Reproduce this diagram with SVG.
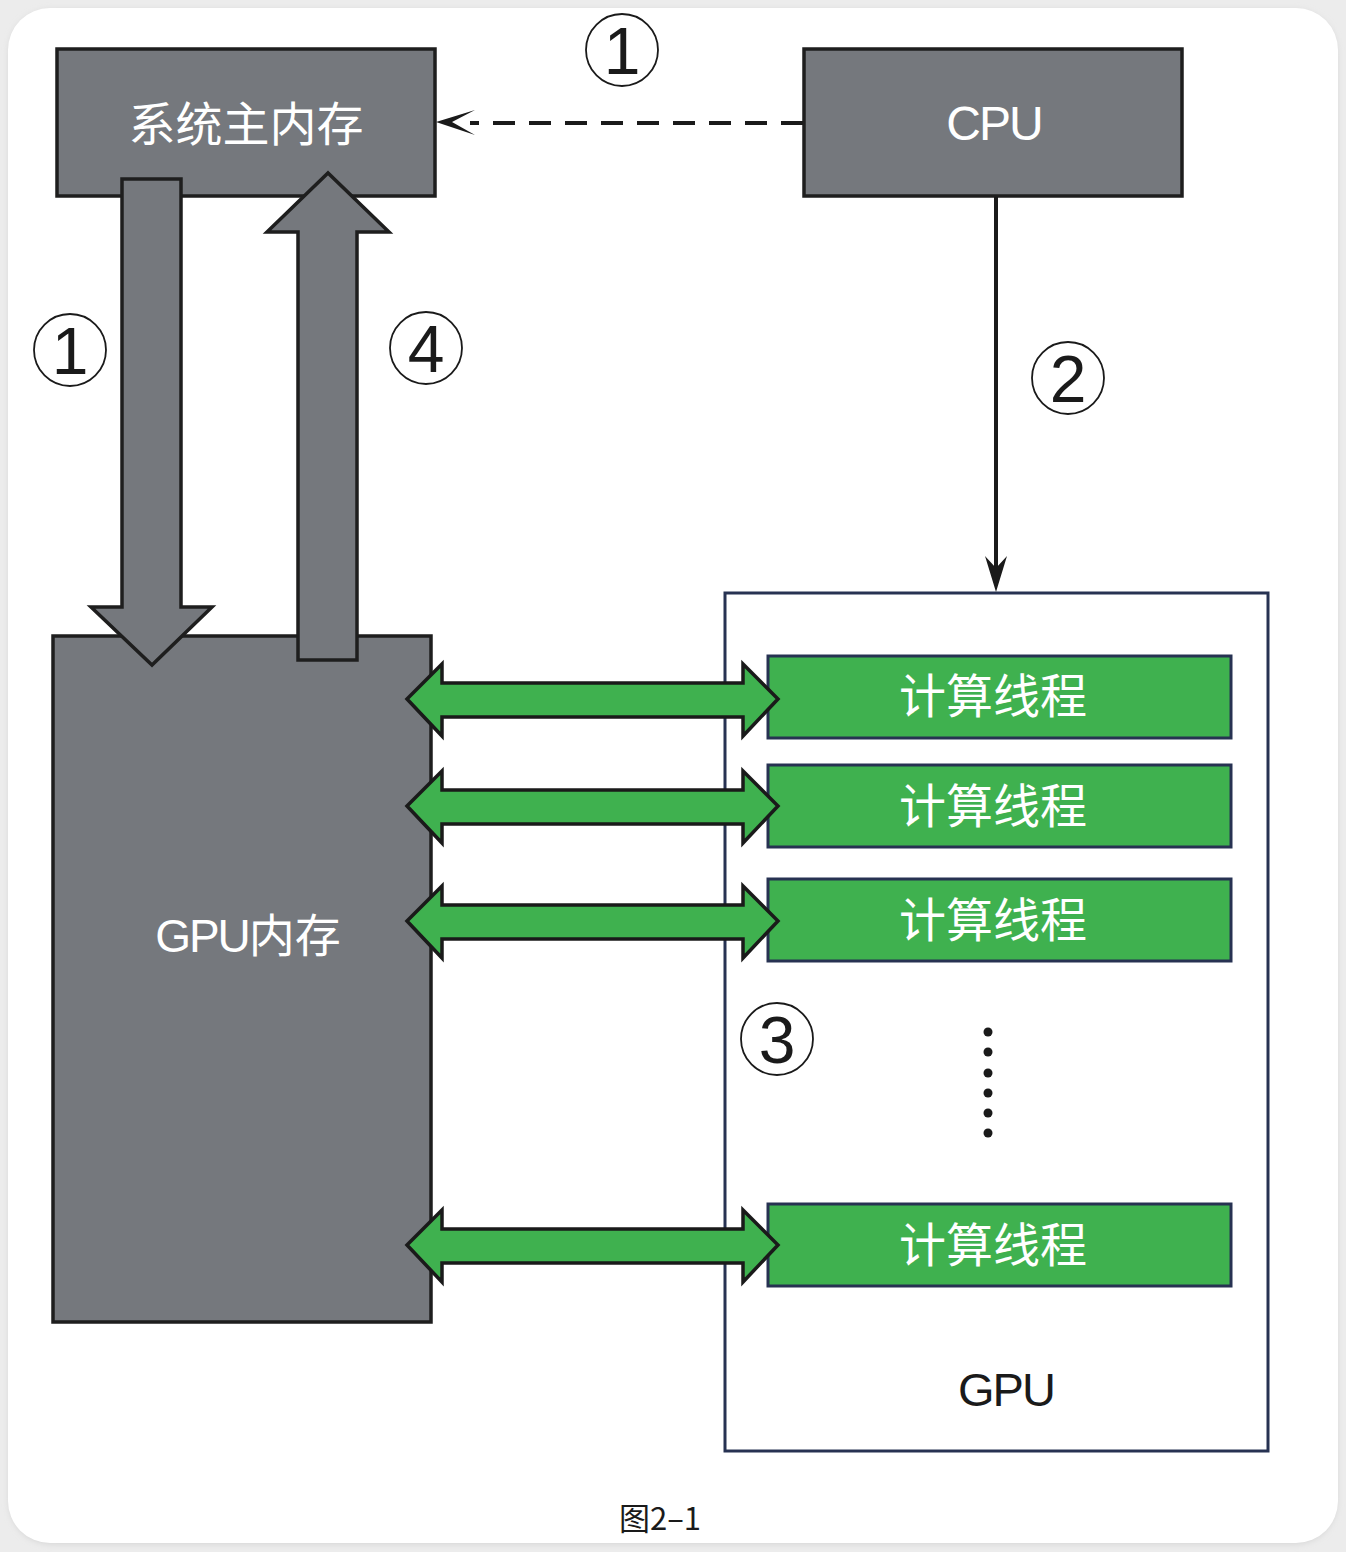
<svg xmlns="http://www.w3.org/2000/svg" width="1346" height="1552" viewBox="0 0 1346 1552">
<defs>
<filter id="sh" x="-5%" y="-5%" width="110%" height="110%"><feGaussianBlur stdDeviation="3"/></filter>
</defs>
<style>
.gray{fill:#75787d;stroke:#1e1e1e;stroke-width:3.5}
.green{fill:#3fb14f;stroke:#273252;stroke-width:3}
.garrow{fill:#3fb14f;stroke:#1a1a1a;stroke-width:3.5;stroke-linejoin:miter}
.wt{fill:#ffffff;font-family:"Noto Sans CJK SC","Liberation Sans",sans-serif;font-size:47px;text-anchor:middle}
.lt{fill:#ffffff;font-family:"Liberation Sans","Noto Sans CJK SC",sans-serif;font-size:48px;text-anchor:middle;letter-spacing:-2px}
.circ{fill:none;stroke:#1a1a1a;stroke-width:1.8}
.num{fill:#1a1a1a;font-family:"Liberation Sans",sans-serif;font-size:66px;text-anchor:middle}
</style>
<rect x="0" y="0" width="1346" height="1552" fill="#ececec"/>
<rect x="9" y="10" width="1328" height="1534" rx="42" fill="#d4d4d4" filter="url(#sh)"/>
<rect x="8" y="8" width="1330" height="1535" rx="42" fill="#ffffff"/>

<g id="gpu-container">
<rect x="725" y="593" width="543" height="858" fill="#ffffff" stroke="#273252" stroke-width="3"/>
<text x="1006" y="1406" font-family="Liberation Sans,sans-serif" font-size="47" fill="#1a1a1a" text-anchor="middle" letter-spacing="-2">GPU</text>
</g>

<g id="sysmem">
<rect class="gray" x="57" y="49" width="378" height="147"/>
<text class="wt" x="246" y="141">系统主内存</text>
</g>
<g id="cpu">
<rect class="gray" x="804" y="49" width="378" height="147"/>
<text class="lt" x="994" y="140">CPU</text>
</g>
<g id="gpumem">
<rect class="gray" x="53" y="636" width="378" height="686"/>
<text x="248" y="952" font-family="Liberation Sans,&quot;Noto Sans CJK SC&quot;,sans-serif" font-size="46" fill="#ffffff" text-anchor="middle" letter-spacing="-2">GPU<tspan font-family="Noto Sans CJK SC,sans-serif" letter-spacing="0">内存</tspan></text>
</g>

<g id="thread1"><rect class="green" x="768" y="656" width="463" height="82"/><text class="wt" x="993" y="713">计算线程</text></g>
<g id="thread2"><rect class="green" x="768" y="765" width="463" height="82"/><text class="wt" x="993" y="823">计算线程</text></g>
<g id="thread3"><rect class="green" x="768" y="879" width="463" height="82"/><text class="wt" x="993" y="937">计算线程</text></g>
<g id="thread4"><rect class="green" x="768" y="1204" width="463" height="82"/><text class="wt" x="993" y="1262">计算线程</text></g>

<g id="dots" fill="#1a1a1a">
<circle cx="988" cy="1032" r="4.5"/><circle cx="988" cy="1052" r="4.5"/><circle cx="988" cy="1073" r="4.5"/>
<circle cx="988" cy="1093" r="4.5"/><circle cx="988" cy="1113" r="4.5"/><circle cx="988" cy="1133" r="4.5"/>
</g>

<g id="connectors">
<line x1="803" y1="123" x2="470" y2="123" stroke="#1a1a1a" stroke-width="4" stroke-dasharray="22,14"/>
<path d="M436,122 L475,110 L452,122 L475,135 Z" fill="#1a1a1a"/>
<line x1="996" y1="197" x2="996" y2="570" stroke="#1a1a1a" stroke-width="4"/>
<path d="M996,592 L985,556 L996,568 L1007,556 Z" fill="#1a1a1a"/>
<path class="gray" d="M122,179 L181,179 L181,607 L212,607 L152,665 L91,607 L122,607 Z"/>
<path class="gray" d="M298,660 L298,232 L267,232 L328,173 L389,232 L357,232 L357,660 Z"/>
<path class="garrow" d="M407,699 L442,664 L442,683 L743,683 L743,664 L778,699 L743,736 L743,717 L442,717 L442,736 Z"/>
<path class="garrow" d="M407,806 L442,771 L442,790 L743,790 L743,771 L778,806 L743,843 L743,824 L442,824 L442,843 Z"/>
<path class="garrow" d="M407,921 L442,886 L442,905 L743,905 L743,886 L778,921 L743,958 L743,939 L442,939 L442,958 Z"/>
<path class="garrow" d="M407,1245 L442,1210 L442,1229 L743,1229 L743,1210 L778,1245 L743,1282 L743,1263 L442,1263 L442,1282 Z"/>
</g>

<g id="labels">
<circle class="circ" cx="622" cy="50" r="36"/><text class="num" x="622" y="74">1</text>
<circle class="circ" cx="70" cy="350" r="36"/><text class="num" x="70" y="374">1</text>
<circle class="circ" cx="426" cy="348" r="36"/><text class="num" x="426" y="372">4</text>
<circle class="circ" cx="1068" cy="378" r="36"/><text class="num" x="1068" y="402">2</text>
<circle class="circ" cx="777" cy="1039" r="36"/><text class="num" x="777" y="1063">3</text>
</g>

<text x="660" y="1530" font-family="Noto Sans CJK SC,Liberation Sans,sans-serif" font-size="31" fill="#1a1a1a" text-anchor="middle">图2–1</text>
</svg>
